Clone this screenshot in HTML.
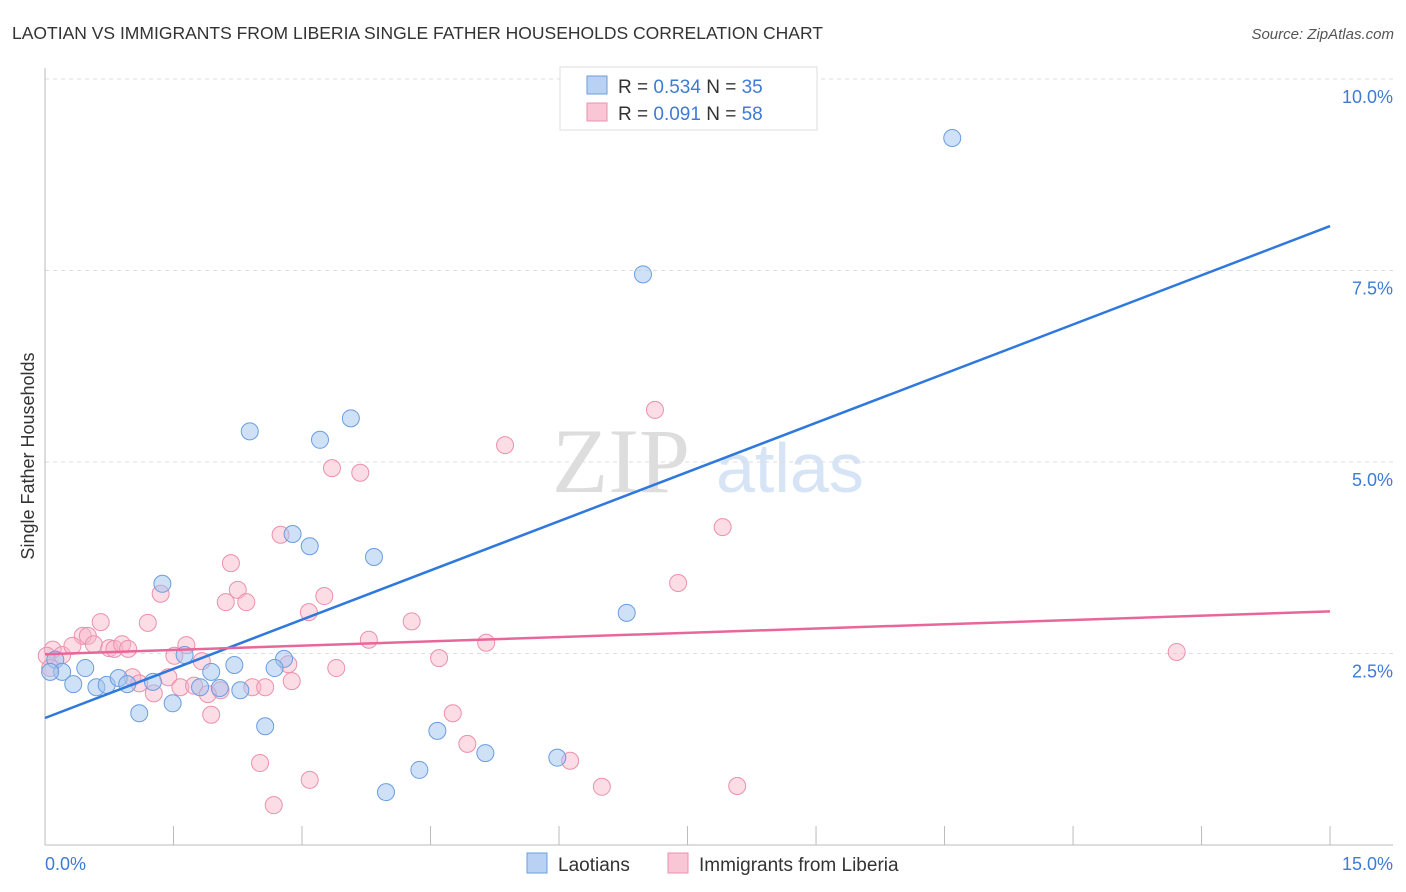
<!DOCTYPE html>
<html><head><meta charset="utf-8"><style>
body{margin:0;background:#fff;font-family:"Liberation Sans",sans-serif;}
svg{display:block}
</style></head><body>
<svg id="chart" width="1406" height="892" xmlns="http://www.w3.org/2000/svg">
<text x="12" y="39" font-size="17.5" fill="#333">LAOTIAN VS IMMIGRANTS FROM LIBERIA SINGLE FATHER HOUSEHOLDS CORRELATION CHART</text>
<text x="1394" y="39" font-size="15" fill="#555" font-style="italic" text-anchor="end">Source: ZipAtlas.com</text>
<g>
<text x="552" y="492" font-size="92" font-family="Liberation Serif,serif" fill="#ddd">ZIP</text>
<text x="716" y="492" font-size="70" fill="#d6e4f5">atlas</text>
</g>
<g id="grid"></g>
<line x1="45" y1="68" x2="45" y2="845" stroke="#bbb"/>
<line x1="45" y1="845" x2="1393" y2="845" stroke="#bbb"/>
<g id="xticks"></g>
<text x="45" y="870" font-size="18" fill="#3d7bd6">0.0%</text>
<text x="1393" y="870" font-size="18" fill="#3d7bd6" text-anchor="end">15.0%</text>
<text transform="translate(34,456) rotate(-90)" font-size="18" fill="#333" text-anchor="middle">Single Father Households</text>
<g id="points"></g>
<g id="lines"></g>
<g>
<rect x="560" y="67" width="257" height="63" fill="#fff" stroke="#ddd"/>
<rect x="587" y="76" width="20" height="18" fill="#b9d2f3" stroke="#6a9de0"/>
<rect x="587" y="103" width="20" height="18" fill="#f9c6d5" stroke="#eb90ad"/>
<text x="618" y="93" font-size="19" fill="#333">R = <tspan fill="#3d7bd6">0.534</tspan>   N = <tspan fill="#3d7bd6">35</tspan></text>
<text x="618" y="120" font-size="19" fill="#333">R = <tspan fill="#3d7bd6">0.091</tspan>   N = <tspan fill="#3d7bd6">58</tspan></text>
</g>
<g>
<rect x="527" y="853" width="20" height="20" fill="#b9d2f3" stroke="#6a9de0"/>
<text x="558" y="871" font-size="19" fill="#333">Laotians</text>
<rect x="668" y="853" width="20" height="20" fill="#f9c6d5" stroke="#eb90ad"/>
<text x="699" y="871" font-size="19" fill="#333">Immigrants from Liberia</text>
</g>
</svg>
<script>
const yTicks=[2.5,5.0,7.5,10.0];
const yTickLabels=["2.5%","5.0%","7.5%","10.0%"];
const xTicks=[1.5,3,4.5,6,7.5,9,10.5,12,13.5,15];
const laoX=[10.59,6.98,3.57,2.39,3.21,2.89,3.09,3.84,1.37,6.79,2.79,1.63,2.21,2.68,0.12,0.20,0.47,0.06,0.33,0.60,0.72,0.86,0.96,1.26,1.94,1.81,2.04,2.28,1.10,1.49,2.57,4.58,5.14,5.98,4.37,3.98];
const laoY=[9.23,7.45,5.57,5.40,5.29,4.06,3.90,3.76,3.41,3.03,2.43,2.48,2.35,2.31,2.42,2.26,2.31,2.26,2.10,2.06,2.09,2.18,2.10,2.13,2.26,2.06,2.05,2.02,1.72,1.85,1.55,1.49,1.20,1.14,0.98,0.69];
const libX=[7.12,5.37,3.35,3.68,7.91,2.75,2.17,7.39,1.35,2.25,2.11,2.35,3.26,3.08,0.65,1.20,4.28,1.65,3.78,5.15,0.44,0.50,0.09,0.20,0.32,0.57,0.75,0.81,0.90,0.97,1.51,1.83,2.84,4.60,3.40,1.44,1.02,1.10,1.58,1.74,2.05,1.90,2.42,2.57,2.88,1.27,1.94,4.76,4.93,2.51,6.13,3.09,8.08,6.50,2.67,13.21,0.02,0.06];
const libY=[5.68,5.22,4.92,4.86,4.15,4.05,3.68,3.42,3.28,3.33,3.17,3.17,3.25,3.04,2.91,2.90,2.92,2.61,2.68,2.64,2.73,2.73,2.55,2.48,2.60,2.62,2.57,2.56,2.62,2.56,2.47,2.40,2.36,2.44,2.31,2.19,2.19,2.11,2.06,2.08,2.02,1.97,2.06,2.06,2.14,1.98,1.70,1.72,1.32,1.07,1.10,0.85,0.77,0.76,0.52,2.52,2.47,2.31];
const laoTrend=[1.658,8.08];
const libTrend=[2.49,3.05];
const X=v=>45+v*85.67, Y=v=>845-v*76.6;
const NS="http://www.w3.org/2000/svg";
function mk(tag,attrs,parent){const e=document.createElementNS(NS,tag);for(const k in attrs)e.setAttribute(k,attrs[k]);parent.appendChild(e);return e;}
const grid=document.getElementById('grid');
yTicks.forEach((t,i)=>{
 const l=mk('line',{x1:45,x2:1393,y1:Y(t),y2:Y(t),stroke:'#ddd','stroke-dasharray':'4,4'},grid);
 
 
 const tx=mk('text',{x:1393,y:Y(t)+24,'font-size':18,fill:'#3d7bd6','text-anchor':'end'},grid);
 tx.textContent=yTickLabels[i];
 
 
});
const xt=document.getElementById('xticks');
xTicks.forEach(t=>{
 const l=mk('line',{x1:X(t),x2:X(t),y1:826,y2:845,stroke:'#bbb'},xt);
 
 
});
const pts=document.getElementById('points');
libX.forEach((x,i)=>{
 const c=mk('circle',{cx:X(x),cy:Y(libY[i]),r:8.5,fill:'rgba(248,180,200,0.45)',stroke:'#eb90ad','stroke-width':1},pts);
 
 
});
laoX.forEach((x,i)=>{
 const c=mk('circle',{cx:X(x),cy:Y(laoY[i]),r:8.5,fill:'rgba(160,195,240,0.5)',stroke:'#6a9de0','stroke-width':1},pts);
 
 
});
const ln=document.getElementById('lines');
const l1=mk('line',{x1:X(0),y1:Y(laoTrend[0]),x2:X(15),y2:Y(laoTrend[1]),stroke:'#2f78dc','stroke-width':2.5},ln);


const l2=mk('line',{x1:X(0),y1:Y(libTrend[0]),x2:X(15),y2:Y(libTrend[1]),stroke:'#e8679a','stroke-width':2.5},ln);


</script>
</body></html>
